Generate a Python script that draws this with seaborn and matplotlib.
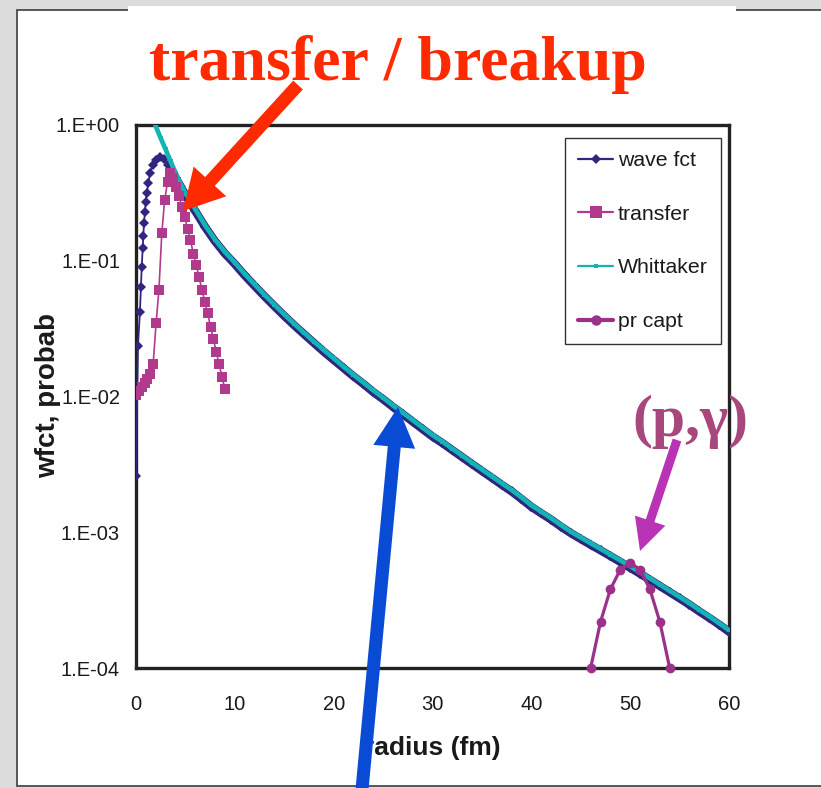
import matplotlib
matplotlib.use("Agg")
import matplotlib.pyplot as plt
import seaborn as sns
from matplotlib.patches import Rectangle, FancyArrowPatch, ArrowStyle
from matplotlib.lines import Line2D
from matplotlib.ticker import NullLocator, FixedLocator, FixedFormatter

# ---------------- data ----------------
wave_r_core = [0.0, 0.2, 0.4, 0.5, 0.58, 0.68, 0.74, 0.81, 0.91, 0.98, 1.08, 1.24, 1.42, 1.69,
               2.02, 2.43, 2.8, 3.2, 3.6, 4.0]
wave_core = [0.0026, 0.0236, 0.0422, 0.0644, 0.0904, 0.124, 0.152, 0.191, 0.23, 0.272, 0.314,
             0.372, 0.441, 0.507, 0.552, 0.584, 0.56, 0.51, 0.46, 0.41]

wave_r_tail = [4.0, 4.5, 5, 6, 7, 8, 9, 10, 11, 12, 13, 14, 15, 16, 17, 18, 19, 20, 21, 22, 23, 24,
               25, 26, 27, 28, 29, 30, 31, 32, 33, 34, 35, 36, 37, 38, 39, 40, 41, 42, 43, 44, 45,
               46, 47, 48, 49, 50, 51, 52, 53, 54, 55, 56, 57, 58, 59, 60]
wave_tail = [0.41, 0.355, 0.305, 0.232, 0.177, 0.139, 0.113, 0.0945, 0.078, 0.0653, 0.0548,
             0.0463, 0.0393, 0.0335, 0.0288, 0.0248, 0.0214, 0.0186, 0.0162, 0.0141, 0.0124,
             0.0108, 0.00955, 0.00838, 0.00741, 0.00653, 0.00575, 0.00507, 0.00454, 0.00403,
             0.00358, 0.00318, 0.00283, 0.00252, 0.00224, 0.0020, 0.00176, 0.00154, 0.00138,
             0.00124, 0.0011, 0.000985, 0.000892, 0.000809, 0.000736, 0.000668, 0.000605,
             0.000548, 0.000495, 0.000447, 0.000402, 0.000362, 0.000326, 0.000293, 0.000261,
             0.000234, 0.000209, 0.000185]

whit_r = [1.9, 2.0, 2.5, 3.0, 3.5, 4.0, 4.5, 5, 6, 7, 8, 9, 10, 11, 12, 13, 14, 15, 16, 17, 18,
          19, 20, 21, 22, 23, 24, 25, 26, 27, 28, 29, 30, 31, 32, 33, 34, 35, 36, 37, 38, 39, 40,
          41, 42, 43, 44, 45, 46, 47, 48, 49, 50, 51, 52, 53, 54, 55, 56, 57, 58, 59, 60]
whittaker = [1.03, 0.98, 0.80, 0.66, 0.54, 0.445, 0.37, 0.315, 0.24, 0.182, 0.143, 0.116, 0.097,
             0.080, 0.067, 0.0562, 0.0475, 0.0403, 0.0344, 0.0295, 0.0254, 0.0220, 0.0191,
             0.0166, 0.0145, 0.0127, 0.0111, 0.0098, 0.0086, 0.0076, 0.0067, 0.0059, 0.0052,
             0.00466, 0.00413, 0.00367, 0.00326, 0.0029, 0.00258, 0.0023, 0.00205, 0.00181,
             0.00158, 0.00142, 0.00127, 0.00113, 0.00101, 0.000915, 0.00083, 0.000755,
             0.000685, 0.00062, 0.000562, 0.000508, 0.000458, 0.000412, 0.000371, 0.000334,
             0.0003, 0.000268, 0.00024, 0.000214, 0.00019]

transfer_r = [0.0, 0.29, 0.58, 0.87, 1.16, 1.45, 1.74, 2.03, 2.32, 2.61, 2.90, 3.19, 3.48, 3.77,
              4.06, 4.35, 4.64, 4.93, 5.22, 5.51, 5.80, 6.09, 6.38, 6.67, 6.96, 7.25, 7.54,
              7.83, 8.12, 8.41, 8.70, 8.99]
transfer = [0.0102, 0.0110, 0.0118, 0.0126, 0.0135, 0.0147, 0.0175, 0.0346, 0.061, 0.16, 0.28,
            0.38, 0.44, 0.41, 0.35, 0.30, 0.25, 0.211, 0.171, 0.142, 0.113, 0.093, 0.0762,
            0.0608, 0.0499, 0.0409, 0.0327, 0.0265, 0.0213, 0.0173, 0.0140, 0.0113]

capt_r = [46, 47, 48, 49, 50, 51, 52, 53, 54]
capt = [1.0e-4, 2.19e-4, 3.8e-4, 5.3e-4, 5.97e-4, 5.3e-4, 3.8e-4, 2.19e-4, 1.0e-4]

series_labels = ["wave fct", "transfer", "Whittaker", "pr capt"]
x_ticks = [0, 10, 20, 30, 40, 50, 60]
y_ticks = [1e-4, 1e-3, 1e-2, 1e-1, 1.0]
y_tick_labels = ["1.E-04", "1.E-03", "1.E-02", "1.E-01", "1.E+00"]

NAVY = "#30257f"
MAGENTA = "#b23a8c"
CYAN = "#14b4b4"
PURPLE = "#9b318b"

# ---------------- figure ----------------
sns.set_style("white")
plt.rcParams["font.family"] = ["Liberation Sans", "DejaVu Sans"]

W, H = 821, 788
fig = plt.figure(figsize=(W / 100, H / 100), dpi=100, facecolor="#dcdcdc")


def P(x, y):
    return (x / W, 1 - y / H)


# slide panel and title box
fig.add_artist(Rectangle(P(17, 786), (W - 17 + 10) / W, (786 - 10) / H, transform=fig.transFigure,
                         facecolor="white", edgecolor="#4a4a4a", lw=1.3, zorder=-2))
fig.add_artist(Rectangle(P(128, 32), (736 - 128) / W, (32 - 6.5) / H, transform=fig.transFigure,
                         facecolor="white", edgecolor="none", zorder=-1))

ax = fig.add_axes([136 / W, 1 - 668 / H, 593 / W, 543 / H])
ax.set_facecolor("white")

sns.lineplot(x=wave_r_core, y=wave_core, ax=ax, color=NAVY, lw=1.3, marker="D", markersize=5.5,
             markeredgewidth=0, estimator=None, sort=False, zorder=3)
sns.lineplot(x=wave_r_tail, y=wave_tail, ax=ax, color=NAVY, lw=6.0, marker="D", markersize=5.5,
             markeredgewidth=0, estimator=None, sort=False, zorder=3)
sns.lineplot(x=whit_r, y=whittaker, ax=ax, color=CYAN, lw=3.4, marker="s", markersize=2.5,
             markeredgewidth=0, estimator=None, sort=False, zorder=4)
sns.lineplot(x=transfer_r, y=transfer, ax=ax, color=MAGENTA, lw=1.2, marker="s", markersize=6.8,
             markeredgewidth=0, estimator=None, sort=False, zorder=5)
sns.lineplot(x=capt_r, y=capt, ax=ax, color=PURPLE, lw=2.3, marker="o", markersize=7,
             markeredgewidth=0, estimator=None, sort=False, zorder=6, clip_on=False)

ax.set_yscale("log")
ax.set_xlim(0, 60)
ax.set_ylim(1e-4, 1.0)
ax.xaxis.set_major_locator(FixedLocator(x_ticks))
ax.yaxis.set_major_locator(FixedLocator(y_ticks))
ax.yaxis.set_major_formatter(FixedFormatter(y_tick_labels))
ax.yaxis.set_minor_locator(NullLocator())
ax.tick_params(length=0, labelsize=14.5, colors="#1a1a1a")
ax.tick_params(axis="x", pad=19.5)
ax.tick_params(axis="y", pad=11.5)

for s in ax.spines.values():
    s.set_visible(True)
    s.set_color("#222222")
    s.set_linewidth(2.4)

ax.set_xlabel("radius (fm)", fontsize=19, fontweight="bold", color="#1a1a1a")
ax.set_ylabel("wfct, probab", fontsize=20, fontweight="bold", color="#1a1a1a")
ax.xaxis.set_label_coords(0.5, -(736 - 668) / 543)
ax.yaxis.set_label_coords(-(136 - 61) / 593, (668 - 396) / 543)

handles = [
    Line2D([], [], color=NAVY, lw=1.6, marker="D", markersize=5.5, markeredgewidth=0),
    Line2D([], [], color=MAGENTA, lw=1.6, marker="s", markersize=8, markeredgewidth=0),
    Line2D([], [], color=CYAN, lw=1.6, marker="s", markersize=3, markeredgewidth=0),
    Line2D([], [], color=PURPLE, lw=3.0, marker="o", markersize=7.5, markeredgewidth=0),
]
leg = ax.legend(handles, series_labels, loc="upper left", bbox_to_anchor=P(565, 138),
                bbox_transform=fig.transFigure, frameon=True, fancybox=False, framealpha=1,
                edgecolor="#333333", prop={"family": "Liberation Sans", "size": 15.3},
                handlelength=1.65, handletextpad=0.22, labelspacing=1.63, borderpad=0.62,
                borderaxespad=0)
leg.get_frame().set_linewidth(1.0)
for t in leg.get_texts():
    t.set_color("#1a1a1a")

# annotations
fig.text(*P(398, 80), "transfer / breakup", family=["Liberation Serif", "DejaVu Serif"],
         weight="bold", size=46, color="#ff2a00", ha="center", va="baseline", zorder=5)
fig.text(*P(690, 436), "(p,γ)", family=["Liberation Serif", "DejaVu Serif"],
         weight="bold", size=43, color="#a8477c", ha="center", va="baseline", zorder=5)

px2pt = 72 / 100.0


def arrow(x0, y0, x1, y1, tail, hw, hl, color):
    style = ArrowStyle.Simple(head_length=hl * px2pt, head_width=hw * px2pt, tail_width=tail * px2pt)
    fig.add_artist(FancyArrowPatch(P(x0, y0), P(x1, y1), transform=fig.transFigure,
                                   arrowstyle=style, mutation_scale=1, color=color, lw=0,
                                   shrinkA=0, shrinkB=0, zorder=10))


arrow(298, 85, 183, 211, 13, 44, 40, "#ff2a00")
arrow(361, 800, 398, 407, 13, 42, 40, "#0a4bd6")
arrow(677, 440, 640, 551, 9, 32, 32, "#bb33b5")

fig.savefig("out.png", dpi=100, facecolor=fig.get_facecolor())
